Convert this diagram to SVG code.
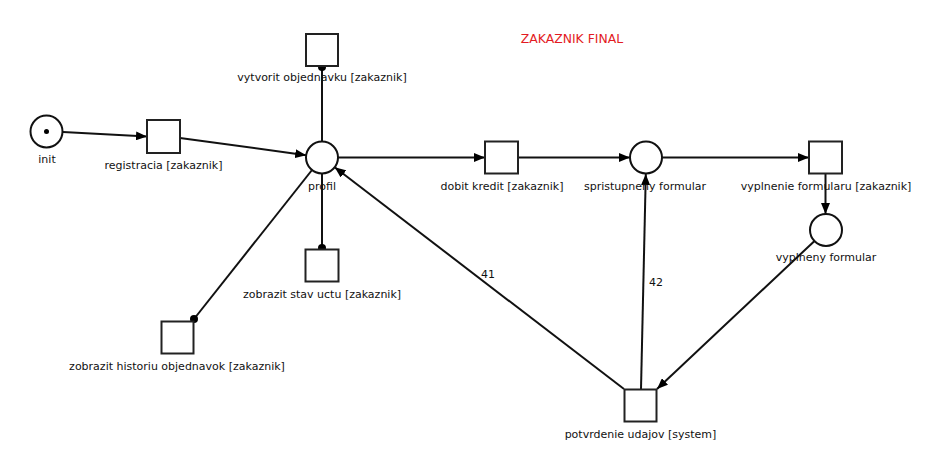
<svg xmlns="http://www.w3.org/2000/svg" width="936" height="466" viewBox="0 0 936 466">
<style>
.pl{fill:#fff;stroke:#111;stroke-width:2}
.tr{fill:#fff;stroke:#222;stroke-width:2}
.lb{font-family:"DejaVu Sans",Verdana,sans-serif;font-size:11px;fill:#111;text-anchor:middle}
.ed{stroke:#111;stroke-width:2;fill:none}
.ar{marker-end:url(#arr)}
.dot{fill:#000}
.title{font-family:"DejaVu Sans",Verdana,sans-serif;font-size:12.4px;fill:#e31b23;text-anchor:middle}
</style>
<defs>
<marker id="arr" markerUnits="userSpaceOnUse" markerWidth="11" markerHeight="9" refX="11" refY="4.5" orient="auto">
<path d="M0,0 L11,4.5 L0,9 z" fill="#000"/>
</marker>
</defs>
<rect width="936" height="466" fill="#fff"/>
<text class="title" x="572" y="43">ZAKAZNIK FINAL</text>
<g id="connectors">
<line class="ed ar" x1="63" y1="132" x2="147" y2="136.5"/>
<line class="ed ar" x1="180" y1="138" x2="306.2" y2="155.2"/>
<line class="ed" x1="322" y1="141.5" x2="322" y2="67"/>
<circle class="dot" cx="322" cy="67" r="4"/>
<line class="ed" x1="322" y1="173.5" x2="322" y2="248"/>
<circle class="dot" cx="322" cy="248" r="4"/>
<line class="ed" x1="312" y1="170" x2="194" y2="319"/>
<circle class="dot" cx="194" cy="319" r="4"/>
<line class="ed ar" x1="338" y1="157.5" x2="485" y2="157.5"/>
<line class="ed ar" x1="518" y1="157.5" x2="630" y2="157.5"/>
<line class="ed ar" x1="662" y1="157.5" x2="809" y2="157.5"/>
<line class="ed ar" x1="825.5" y1="174" x2="825.5" y2="214"/>
<line class="ed ar" x1="814.5" y1="241" x2="657" y2="389"/>
<line class="ed ar" x1="624" y1="389" x2="334.7" y2="167.3"/>
<line class="ed ar" x1="641" y1="389" x2="645.8" y2="174"/>
<text class="lb" x="488" y="278">41</text>
<text class="lb" x="656" y="286">42</text>
</g>
<g id="init">
<circle class="pl" cx="46.5" cy="131.5" r="16"/>
<circle class="dot" cx="46.5" cy="131.5" r="2.5"/>
<text class="lb" x="47" y="163">init</text>
</g>
<g id="registracia">
<rect class="tr" x="147" y="120" width="33" height="33"/>
<text class="lb" x="163.5" y="169">registracia [zakaznik]</text>
</g>
<g id="profil">
<circle class="pl" cx="322" cy="157.5" r="16"/>
<text class="lb" x="322" y="190">profil</text>
</g>
<g id="vytvorit">
<rect class="tr" x="306" y="34" width="32" height="32"/>
<text class="lb" x="322" y="81">vytvorit objednavku [zakaznik]</text>
</g>
<g id="zobrazit-stav">
<rect class="tr" x="305.5" y="249.5" width="33" height="32"/>
<text class="lb" x="322" y="298">zobrazit stav uctu [zakaznik]</text>
</g>
<g id="zobrazit-historiu">
<rect class="tr" x="161.5" y="321.5" width="32" height="32"/>
<text class="lb" x="177" y="370">zobrazit historiu objednavok [zakaznik]</text>
</g>
<g id="dobit-kredit">
<rect class="tr" x="485" y="141.5" width="33" height="32"/>
<text class="lb" x="502" y="190">dobit kredit [zakaznik]</text>
</g>
<g id="spristupneny">
<circle class="pl" cx="646" cy="157.5" r="16"/>
<text class="lb" x="645" y="190">spristupneny formular</text>
</g>
<g id="vyplnenie">
<rect class="tr" x="809" y="141.5" width="33" height="32"/>
<text class="lb" x="826" y="190">vyplnenie formularu [zakaznik]</text>
</g>
<g id="vyplneny">
<circle class="pl" cx="826" cy="230" r="16"/>
<text class="lb" x="826" y="261">vyplneny formular</text>
</g>
<g id="potvrdenie">
<rect class="tr" x="624.5" y="389.5" width="32" height="32"/>
<text class="lb" x="640.5" y="438">potvrdenie udajov [system]</text>
</g>
</svg>
